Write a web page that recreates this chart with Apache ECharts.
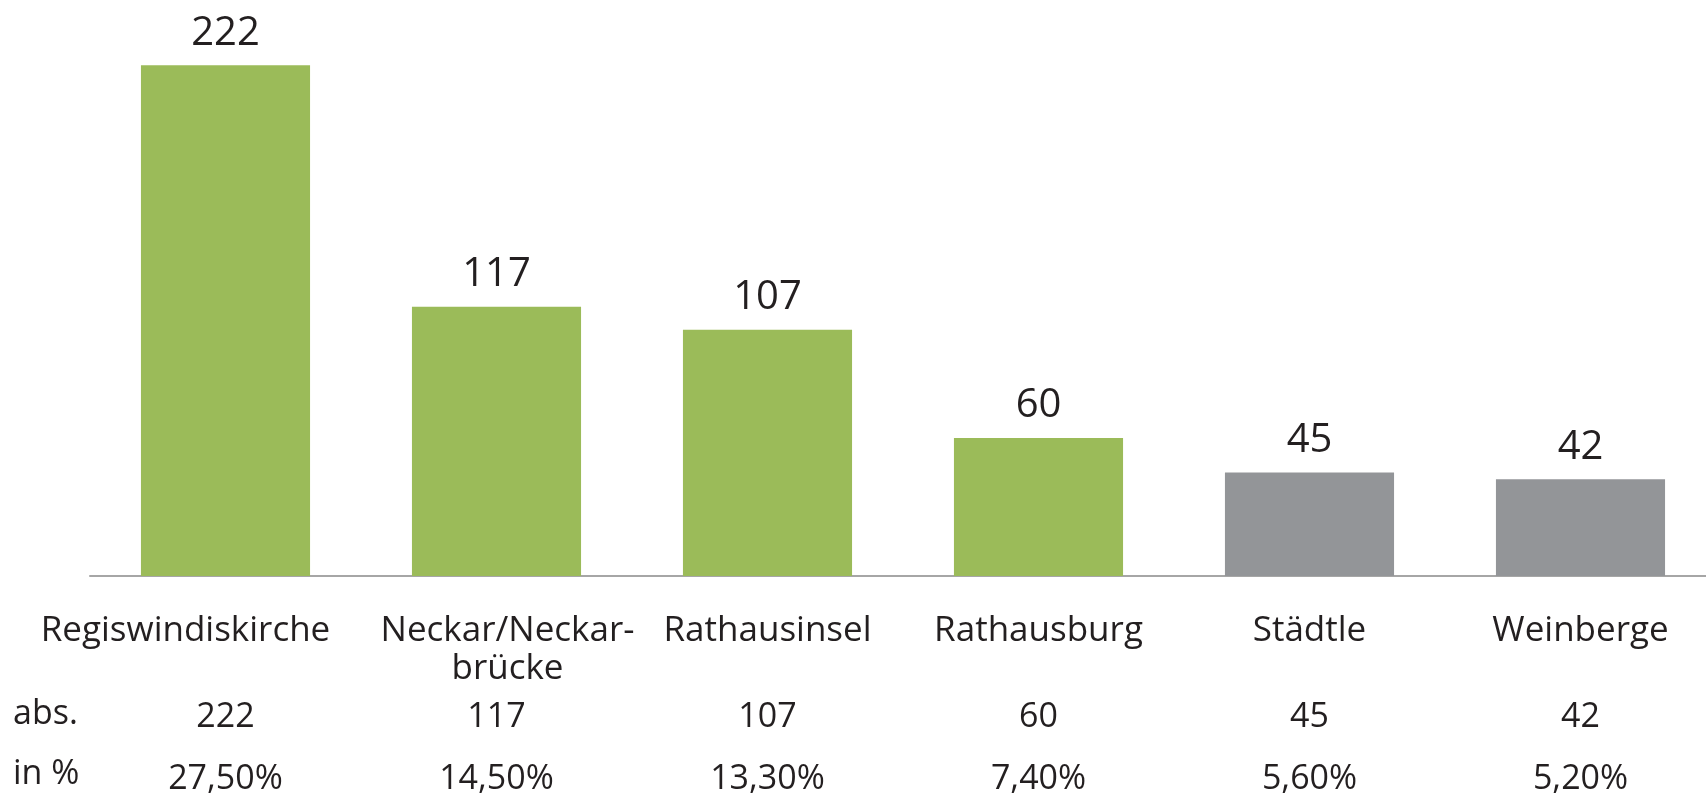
<!DOCTYPE html>
<html>
<head>
    <meta charset="utf-8">
    <title>Orte</title>
    <script src="https://cdn.jsdelivr.net/npm/echarts@6/dist/echarts.min.js"></script>
    <style>
        html, body { margin: 0; padding: 0; background: #fff; }
        #chart1 { width: 1706px; height: 793px; }
    </style>
</head>
<body>
<div id="chart1"></div>
<script type="text/javascript">
    // Daten
    var orte = ['Regiswindiskirche', 'Neckar/Neckar-\nbrücke', 'Rathausinsel', 'Rathausburg', 'Städtle', 'Weinberge'];
    var anzahl = [222, 117, 107, 60, 45, 42];
    var prozent = [27.5, 14.5, 13.3, 7.4, 5.6, 5.2];
    var grau = [false, false, false, false, true, true];

    var schrift = 'Open Sans';
    var textFarbe = '#231f20';

    var myChart = echarts.init(document.getElementById('chart1'));

    var balken = anzahl.map(function (v, i) {
        return {
            value: v,
            itemStyle: { color: grau[i] ? '#939598' : '#9bbb59' }
        };
    });

    // Beschriftung wie im Original leicht versetzt (erste links, zweite rechts)
    function ortLabel(name, i) {
        var stil = i === 0 ? 'l' : (i === 1 ? 'r' : 'n');
        return name.split('\n').map(function (z) {
            return '{' + stil + '|' + z + '}';
        }).join('\n');
    }

    var labelStil = { color: textFarbe, fontFamily: schrift, fontSize: 35, lineHeight: 38 };

    // zusätzliche Zeilen unter der Achse (abs. / in %)
    function zeile(werte, offset, fmt) {
        return {
            type: 'category',
            gridIndex: 0,
            position: 'bottom',
            offset: offset,
            data: werte,
            axisLine: { show: false },
            axisTick: { show: false },
            axisLabel: {
                interval: 0,
                margin: 0,
                color: textFarbe,
                fontFamily: schrift,
                fontSize: 34,
                verticalAlign: 'middle',
                formatter: fmt
            }
        };
    }

    var option = {
        animation: false,
        grid: { left: 90, width: 1626, top: 3, bottom: 217, containLabel: false, outerBoundsMode: 'none' },
        xAxis: [{
            type: 'category',
            data: orte,
            axisLine: { lineStyle: { color: '#a6a6a6', width: 2 } },
            axisTick: { show: false },
            axisLabel: {
                interval: 0,
                margin: 36,
                color: textFarbe,
                fontFamily: schrift,
                fontSize: 35,
                lineHeight: 38,
                formatter: function (v, i) { return ortLabel(v, i); },
                rich: {
                    n: labelStil,
                    l: Object.assign({ padding: [0, 80, 0, 0] }, labelStil),
                    r: Object.assign({ padding: [0, 0, 0, 22] }, labelStil)
                }
            }
        },
            zeile(anzahl, 141, function (v) { return v; }),
            zeile(prozent, 203, function (v) { return Number(v).toFixed(2).replace('.', ',') + '%'; })
        ],
        yAxis: {
            type: 'value',
            min: 0,
            max: 249,
            show: false,
            splitLine: { show: false }
        },
        series: [{
            type: 'bar',
            data: balken,
            barCategoryGap: '37.6%',
            label: {
                show: true,
                position: 'top',
                distance: 12,
                color: textFarbe,
                fontFamily: schrift,
                fontSize: 40
            }
        }],
        graphic: [
            { type: 'text', left: 13, top: 697, style: { text: 'abs.', font: '34px "Open Sans"', fill: textFarbe } },
            { type: 'text', left: 13, top: 757, style: { text: 'in %', font: '34px "Open Sans"', fill: textFarbe } }
        ]
    };
    myChart.setOption(option);
</script>
</body>
</html>
